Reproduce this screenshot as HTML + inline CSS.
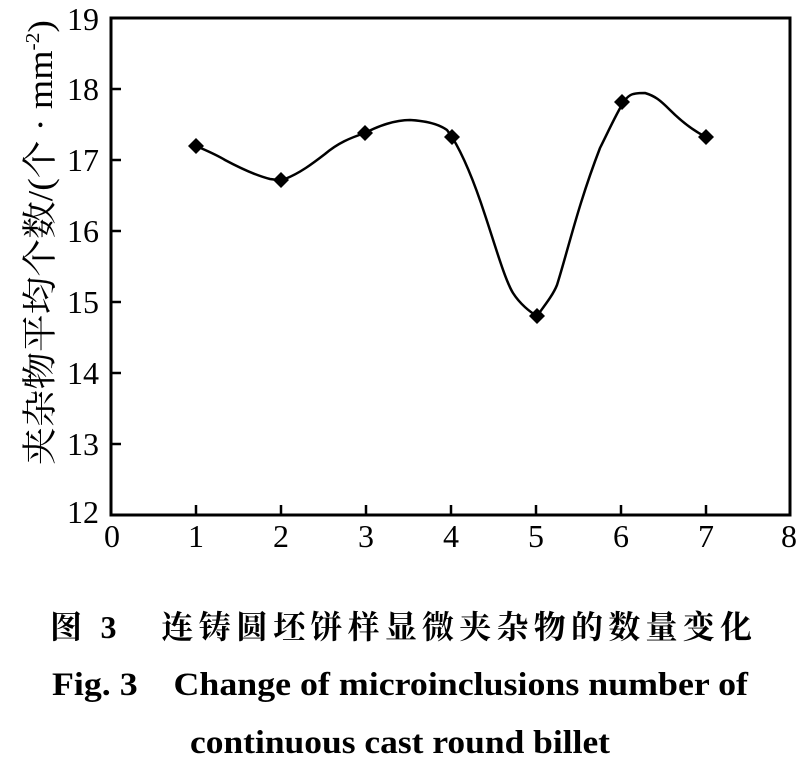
<!DOCTYPE html>
<html><head><meta charset="utf-8"><style>
body{margin:0;background:#fff;}
svg{display:block;}
</style></head><body>
<svg width="804" height="763" viewBox="0 0 804 763" xmlns="http://www.w3.org/2000/svg">
<rect width="804" height="763" fill="#fff"/>
<rect x="111" y="18" width="679" height="497" fill="none" stroke="#000" stroke-width="3"/>
<g stroke="#000" stroke-width="2.5">
<line x1="196" y1="515" x2="196" y2="505"/>
<line x1="281" y1="515" x2="281" y2="505"/>
<line x1="366" y1="515" x2="366" y2="505"/>
<line x1="451" y1="515" x2="451" y2="505"/>
<line x1="536" y1="515" x2="536" y2="505"/>
<line x1="621" y1="515" x2="621" y2="505"/>
<line x1="706" y1="515" x2="706" y2="505"/>
<line x1="111" y1="89" x2="121" y2="89"/>
<line x1="111" y1="160" x2="121" y2="160"/>
<line x1="111" y1="231" x2="121" y2="231"/>
<line x1="111" y1="302" x2="121" y2="302"/>
<line x1="111" y1="373" x2="121" y2="373"/>
<line x1="111" y1="444" x2="121" y2="444"/>
</g>
<g font-family="Liberation Serif, serif" font-size="32" fill="#000" text-anchor="end">
<text x="99" y="30">19</text>
<text x="99" y="100">18</text>
<text x="99" y="171">17</text>
<text x="99" y="242">16</text>
<text x="99" y="313">15</text>
<text x="99" y="384">14</text>
<text x="99" y="455">13</text>
<text x="99" y="523">12</text>
</g>
<g font-family="Liberation Serif, serif" font-size="32" fill="#000" text-anchor="middle">
<text x="112" y="547">0</text>
<text x="196" y="547">1</text>
<text x="281" y="547">2</text>
<text x="366" y="547">3</text>
<text x="451" y="547">4</text>
<text x="536" y="547">5</text>
<text x="621" y="547">6</text>
<text x="706" y="547">7</text>
<text x="789" y="547">8</text>
</g>
<text transform="translate(52,465) rotate(-90)" font-family="Liberation Serif, 'Noto Serif CJK SC', serif" font-size="35" fill="#000" textLength="445" lengthAdjust="spacingAndGlyphs">夹杂物平均个数/(个 · mm<tspan font-size="20" dy="-13">-2</tspan><tspan dy="13">)</tspan></text>
<path d="M196,146 C205,150 215,154 225,160 C240,168 258,176 270,179 C276,180 280,180 285,179 C300,173 312,164 325,154 C338,143 350,138 365,133 C378,126 395,120 410,120 C428,121 440,125 447,130 L452,137 C460,150 472,175 485,215 C495,245 505,280 513,293 C520,304 530,312 537,316 C545,305 553,295 557,285 C568,250 578,205 600,148 C610,128 618,110 625,100 C630,94 633,93 645,93 C655,96 660,100 670,110 C680,120 692,130 706,137" fill="none" stroke="#000" stroke-width="2.5"/>
<g fill="#000">
<polygon points="196,138 204,146 196,154 188,146"/>
<polygon points="281,172 289,180 281,188 273,180"/>
<polygon points="365,125 373,133 365,141 357,133"/>
<polygon points="452,129 460,137 452,145 444,137"/>
<polygon points="537,308 545,316 537,324 529,316"/>
<polygon points="622,94 630,102 622,110 614,102"/>
<polygon points="706,129 714,137 706,145 698,137"/>
</g>
<text x="50" y="638" font-family="Liberation Serif, 'Noto Serif CJK SC', serif" font-size="32" font-weight="bold" fill="#000" textLength="702" lengthAdjust="spacing" xml:space="preserve">图 3   连铸圆坯饼样显微夹杂物的数量变化</text>
<text x="52" y="695" font-family="Liberation Serif, serif" font-size="33" font-weight="bold" fill="#000" textLength="696" lengthAdjust="spacingAndGlyphs" xml:space="preserve">Fig. 3    Change of microinclusions number of</text>
<text x="190" y="753" font-family="Liberation Serif, serif" font-size="33" font-weight="bold" fill="#000" textLength="420" lengthAdjust="spacingAndGlyphs">continuous cast round billet</text>
</svg>
</body></html>
